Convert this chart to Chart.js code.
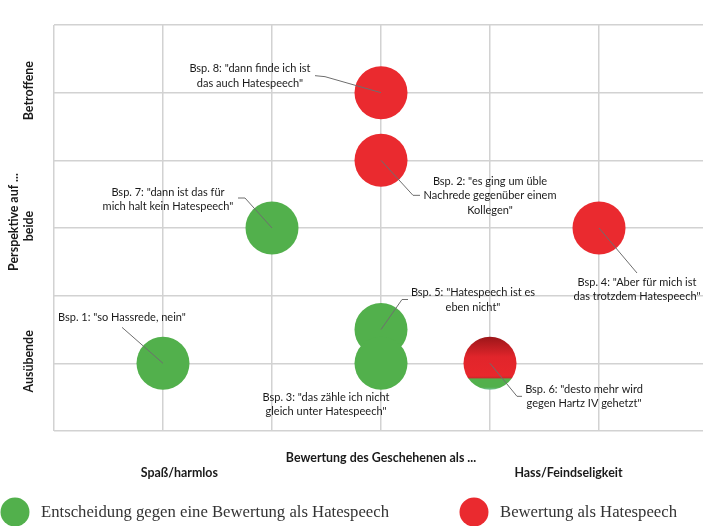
<!DOCTYPE html>
<html>
<head>
<meta charset="utf-8">
<script src="https://cdn.jsdelivr.net/npm/chart.js@4.4.1/dist/chart.umd.min.js"></script>
<style>
  html, body { margin: 0; padding: 0; background: #ffffff; }
  #wrap { width: 703px; height: 526px; }
</style>
</head>
<body>
<div id="wrap"><canvas id="c" width="703" height="526"></canvas></div>
<script>
// ---------- data ----------
const seriesNames = ['Entscheidung gegen eine Bewertung als Hatespeech', 'Bewertung als Hatespeech'];

const greenNames = ['Bsp. 1', 'Bsp. 7', 'Bsp. 5', 'Bsp. 3'];
const greenX = [1, 2, 3, 3];
const greenY = [1, 3, 1.5, 1];

const redNames = ['Bsp. 8', 'Bsp. 2', 'Bsp. 4', 'Bsp. 6'];
const redX = [3, 3, 5, 4];
const redY = [5, 4, 3, 1];

const quotes = {
  'Bsp. 1': ['Bsp. 1: "so Hassrede, nein"'],
  'Bsp. 2': ['Bsp. 2: "es ging um üble', 'Nachrede gegenüber einem', 'Kollegen"'],
  'Bsp. 3': ['Bsp. 3: "das zähle ich nicht', 'gleich unter Hatespeech"'],
  'Bsp. 4': ['Bsp. 4: "Aber für mich ist', 'das trotzdem Hatespeech"'],
  'Bsp. 5': ['Bsp. 5: "Hatespeech ist es', 'eben nicht"'],
  'Bsp. 6': ['Bsp. 6: "desto mehr wird', 'gegen Hartz IV gehetzt"'],
  'Bsp. 7': ['Bsp. 7: "dann ist das für', 'mich halt kein Hatespeech"'],
  'Bsp. 8': ['Bsp. 8: "dann finde ich ist', 'das auch Hatespeech"']
};

const yTickLabels = ['Ausübende', 'beide', 'Betroffene'];
const yTickValues = [1, 3, 5];
const yTitle = 'Perspektive auf ...';
const xTitle = 'Bewertung des Geschehenen als ...';
const xTickLabels = ['Spaß/harmlos', 'Hass/Feindseligkeit'];

// point whose fill is partly green (mixed judgement)
const mixedPoints = ['Bsp. 6'];

// ---------- styles / layout ----------
const GREEN = '#52b04c';
const RED = '#ea2a2f';
const GRID = '#d2d2d2';
const RADIUS = 26.5;

const xTickPos = [1.15, 4.72];
const annotLayout = {
  'Bsp. 8': { dx: -131, dy: -24, lead: [[-56, -16], [-66, -17]] },
  'Bsp. 2': { dx: 109, dy: 21, lead: [[32, 35], [39, 35]] },
  'Bsp. 7': { dx: -104, dy: -36, lead: [[-27, -30], [-34, -30]] },
  'Bsp. 4': { dx: 38, dy: 54, lead: [[38, 45]] },
  'Bsp. 5': { dx: 92, dy: -37, lead: [[21, -30], [27, -30]] },
  'Bsp. 3': { dx: -55, dy: 34, lead: [] },
  'Bsp. 1': { dx: -41, dy: -46, lead: [[-41, -36]] },
  'Bsp. 6': { dx: 94, dy: 26, lead: [[27, 33], [32, 33]] }
};

function pts(names, xs, ys) {
  return names.map((n, i) => ({ x: xs[i], y: ys[i], name: n }));
}

function redFill(context) {
  if (context.type !== 'data' || !context.raw || mixedPoints.indexOf(context.raw.name) < 0) return RED;
  const chart = context.chart;
  const ys = chart.scales && chart.scales.y;
  if (!ys) return RED;
  const cy = ys.getPixelForValue(context.raw.y);
  if (!isFinite(cy)) return RED;
  const g = chart.ctx.createLinearGradient(0, cy - RADIUS, 0, cy + RADIUS);
  g.addColorStop(0, '#9c1619');
  g.addColorStop(0.38, '#e1252b');
  g.addColorStop(0.74, '#e8272c');
  g.addColorStop(0.78, '#c9262a');
  g.addColorStop(0.79, '#52b04c');
  g.addColorStop(0.95, '#52b04c');
  g.addColorStop(1, '#7cc6a0');
  return g;
}

const annotations = {
  id: 'annotations',
  afterDatasetsDraw(chart) {
    const ctx = chart.ctx;
    ctx.save();
    chart.data.datasets.forEach((ds, di) => {
      const meta = chart.getDatasetMeta(di);
      meta.data.forEach((el, i) => {
        const name = ds.data[i].name;
        const lay = annotLayout[name];
        if (!lay) return;
        const cx = el.x, cy = el.y;
        if (lay.lead.length) {
          ctx.beginPath();
          ctx.strokeStyle = '#6e6e6e';
          ctx.lineWidth = 1;
          ctx.moveTo(cx, cy);
          lay.lead.forEach(p => ctx.lineTo(cx + p[0], cy + p[1]));
          ctx.stroke();
        }
        ctx.fillStyle = '#1a1a1a';
        ctx.font = '11px Lato';
        ctx.textAlign = 'center';
        ctx.textBaseline = 'middle';
        quotes[name].forEach((line, li) => {
          ctx.fillText(line, cx + lay.dx, cy + lay.dy + li * 14.5);
        });
      });
    });
    ctx.restore();
  }
};

const axisTexts = {
  id: 'axisTexts',
  afterDraw(chart) {
    const ctx = chart.ctx;
    const xs = chart.scales.x, ys = chart.scales.y;
    const area = chart.chartArea;
    ctx.save();
    ctx.fillStyle = '#1a1a1a';
    ctx.font = 'bold 12.4px Lato';
    ctx.textAlign = 'center';
    ctx.textBaseline = 'middle';
    // y tick labels (rotated)
    yTickLabels.forEach((t, i) => {
      ctx.save();
      ctx.translate(29, ys.getPixelForValue(yTickValues[i]) - 2);
      ctx.rotate(-Math.PI / 2);
      ctx.fillText(t, 0, 0);
      ctx.restore();
    });
    // y title
    ctx.save();
    ctx.translate(14, (area.top + area.bottom) / 2 - 6);
    ctx.rotate(-Math.PI / 2);
    ctx.fillText(yTitle, 0, 0);
    ctx.restore();
    // x title and labels
    ctx.fillText(xTitle, xs.getPixelForValue(3), area.bottom + 27);
    xTickLabels.forEach((t, i) => {
      ctx.fillText(t, xs.getPixelForValue(xTickPos[i]), area.bottom + 42);
    });
    // legend
    const legendY = 512;
    const legendX = [15, 474];
    ctx.font = '16.7px "Liberation Serif"';
    ctx.textAlign = 'left';
    chart.data.datasets.forEach((ds, i) => {
      ctx.beginPath();
      ctx.fillStyle = ds.legendColor;
      ctx.arc(legendX[i], legendY, 14.5, 0, Math.PI * 2);
      ctx.fill();
      ctx.fillStyle = '#333333';
      ctx.fillText(ds.label, legendX[i] + 26, legendY + 1);
    });
    ctx.restore();
  }
};

new Chart(document.getElementById('c'), {
  type: 'scatter',
  data: {
    datasets: [
      {
        label: seriesNames[0],
        data: pts(greenNames, greenX, greenY),
        backgroundColor: GREEN,
        borderWidth: 0,
        pointRadius: RADIUS,
        legendColor: GREEN
      },
      {
        label: seriesNames[1],
        data: pts(redNames, redX, redY),
        backgroundColor: redFill,
        borderWidth: 0,
        pointRadius: RADIUS,
        legendColor: RED
      }
    ]
  },
  options: {
    responsive: false,
    animation: false,
    events: [],
    layout: { autoPadding: false, padding: { left: 54, top: 25, right: 0, bottom: 95 } },
    plugins: {
      legend: { display: false },
      tooltip: { enabled: false }
    },
    scales: {
      x: {
        type: 'linear',
        min: 0,
        max: 5.954,
        ticks: { display: false, stepSize: 1, includeBounds: false },
        grid: { color: GRID, lineWidth: 1.5, drawTicks: false },
        border: { display: false }
      },
      y: {
        type: 'linear',
        min: 0,
        max: 6,
        ticks: { display: false, stepSize: 1 },
        grid: { color: GRID, lineWidth: 1.5, drawTicks: false },
        border: { display: false }
      }
    }
  },
  plugins: [annotations, axisTexts]
});
</script>
</body>
</html>
